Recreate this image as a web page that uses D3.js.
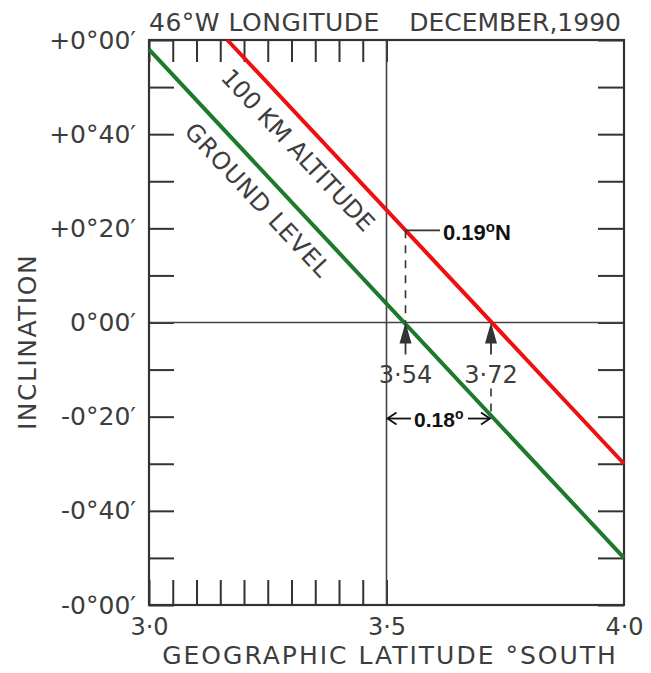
<!DOCTYPE html>
<html>
<head>
<meta charset="utf-8">
<script src="https://cdn.jsdelivr.net/npm/d3@7"></script>
<style>
  body { margin: 0; background: #fff; }
  svg text { font-family: "DejaVu Sans", sans-serif; fill: #3d3d3d; }
</style>
</head>
<body>
<svg></svg>
<script>
// inclination vs geographic latitude, 46W, Dec 1990
var width = 651
var height = 673

// latitude (deg S) and inclination (arc minutes)
var groundLat = [3.0, 4.0]
var groundInc = [58, -50]
var altLat = [3.165, 4.0]
var altInc = [60, -30]

var yTickValues = [60, 40, 20, 0, -20, -40, -60]
var yTickLabels = ['+0°00′', '+0°40′', '+0°20′', '0°00′', '-0°20′', '-0°40′', '-0°00′']
var xTickValues = [3.0, 3.5, 4.0]
var xTickLabels = ['3·0', '3·5', '4·0']

var cross54 = 3.54
var cross72 = 3.72

var xScale = d3.scaleLinear().domain([3, 4]).range([149, 624])
var yScale = d3.scaleLinear().domain([-60, 60]).range([605, 40])

var svg = d3.select('svg')
  .attr('width', width)
  .attr('height', height)

var minorX = d3.range(0, 11).map(i => 3 + i * 0.05)
var minorY = d3.range(-60, 61, 10)

// axes, ticks all point inward
function styleAxis(g) {
  g.select('.domain').remove()
  g.selectAll('.tick line').attr('stroke', '#333').attr('stroke-width', 2)
}

svg.append('g')
  .attr('transform', 'translate(0,' + yScale(-60) + ')')
  .call(d3.axisBottom(xScale).tickValues(minorX).tickSizeInner(-25).tickFormat(''))
  .call(styleAxis)

svg.append('g')
  .attr('transform', 'translate(0,' + yScale(60) + ')')
  .call(d3.axisTop(xScale).tickValues(minorX).tickSizeInner(-22).tickFormat(''))
  .call(styleAxis)

svg.append('g')
  .attr('transform', 'translate(' + xScale(3) + ',0)')
  .call(d3.axisLeft(yScale).tickValues(minorY).tickSizeInner(-25).tickFormat(''))
  .call(styleAxis)

svg.append('g')
  .attr('transform', 'translate(' + xScale(4) + ',0)')
  .call(d3.axisRight(yScale).tickValues(minorY).tickSizeInner(-26).tickFormat(''))
  .call(styleAxis)

// tick labels
svg.append('g')
  .attr('transform', 'translate(' + (xScale(3) - 10) + ',0)')
  .call(d3.axisLeft(yScale).tickValues(yTickValues).tickSize(0)
    .tickFormat((d, i) => yTickLabels[i]))
  .call(g => g.select('.domain').remove())
  .selectAll('text')
    .style('font-size', '25px')
    .attr('fill', '#3d3d3d')

svg.append('g')
  .attr('transform', 'translate(0,' + (yScale(-60) + 10) + ')')
  .call(d3.axisBottom(xScale).tickValues(xTickValues).tickSize(0)
    .tickFormat((d, i) => xTickLabels[i]))
  .call(g => g.select('.domain').remove())
  .selectAll('text')
    .style('font-size', '24px')
    .attr('fill', '#3d3d3d')

// reference lines
svg.append('line')
  .attr('x1', xScale(3)).attr('x2', xScale(4))
  .attr('y1', yScale(0)).attr('y2', yScale(0))
  .attr('stroke', '#444').attr('stroke-width', 1.6)

svg.append('line')
  .attr('x1', xScale(3.5)).attr('x2', xScale(3.5))
  .attr('y1', yScale(60)).attr('y2', yScale(-60))
  .attr('stroke', '#444').attr('stroke-width', 1.6)

// frame
svg.append('rect')
  .attr('x', xScale(3)).attr('y', yScale(60))
  .attr('width', xScale(4) - xScale(3))
  .attr('height', yScale(-60) - yScale(60))
  .attr('fill', 'none')
  .attr('stroke', '#333')
  .attr('stroke-width', 2.2)

// series lines
var line = d3.line().x(d => xScale(d[0])).y(d => yScale(d[1]))

svg.append('path')
  .datum(altLat.map((d, i) => [d, altInc[i]]))
  .attr('d', line)
  .attr('fill', 'none')
  .attr('stroke', '#ee1010')
  .attr('stroke-width', 4)

svg.append('path')
  .datum(groundLat.map((d, i) => [d, groundInc[i]]))
  .attr('d', line)
  .attr('fill', 'none')
  .attr('stroke', '#1d7a2c')
  .attr('stroke-width', 4)

// value of a series at latitude
function interp(lats, incs, x) {
  var t = (x - lats[0]) / (lats[1] - lats[0])
  return incs[0] + t * (incs[1] - incs[0])
}

// rotated series labels
var angle = Math.atan2(yScale(groundInc[1]) - yScale(groundInc[0]),
  xScale(groundLat[1]) - xScale(groundLat[0])) * 180 / Math.PI

svg.append('text')
  .attr('transform', 'translate(298,150) rotate(' + angle + ')')
  .attr('text-anchor', 'middle')
  .attr('dy', '0.35em')
  .style('font-size', '24px')
  .text('100 KM ALTITUDE')

svg.append('text')
  .attr('transform', 'translate(258,200) rotate(' + angle + ')')
  .attr('text-anchor', 'middle')
  .attr('dy', '0.35em')
  .style('font-size', '24px')
  .style('letter-spacing', '1px')
  .text('GROUND LEVEL')

// annotations
var ink = '#333'
var redAt54 = interp(altLat, altInc, cross54)
var greenAt72 = interp(groundLat, groundInc, cross72)

svg.append('line')
  .attr('x1', xScale(cross54)).attr('x2', 440)
  .attr('y1', yScale(redAt54)).attr('y2', yScale(redAt54))
  .attr('stroke', ink).attr('stroke-width', 1.8)

svg.append('line')
  .attr('x1', xScale(cross54)).attr('x2', xScale(cross54))
  .attr('y1', yScale(redAt54)).attr('y2', yScale(0))
  .attr('stroke', ink).attr('stroke-width', 1.6)
  .attr('stroke-dasharray', '8,7')

svg.append('text')
  .attr('x', 443).attr('y', yScale(redAt54) + 10)
  .style('font-family', '"Liberation Sans", Arial, sans-serif')
  .style('font-weight', 'bold')
  .style('font-size', '22px')
  .style('fill', '#111')
  .html('0.19<tspan dy="-8" style="font-size:15px">o</tspan><tspan dy="8">N</tspan>')

// upward arrows at the zero crossings
;[cross54, cross72].forEach(function (c) {
  var cx = xScale(c)
  var y0 = yScale(0)
  svg.append('line')
    .attr('x1', cx).attr('x2', cx)
    .attr('y1', y0 + 18).attr('y2', y0 + 32)
    .attr('stroke', ink).attr('stroke-width', 1.8)
  svg.append('path')
    .attr('d', 'M' + cx + ',' + y0 + ' L' + (cx - 6) + ',' + (y0 + 21) +
      ' L' + (cx + 6) + ',' + (y0 + 21) + ' Z')
    .attr('fill', ink)
  svg.append('text')
    .attr('x', cx).attr('y', y0 + 60)
    .attr('text-anchor', 'middle')
    .style('font-size', '24px')
    .text(c.toFixed(2).replace('.', '·'))
})

svg.append('line')
  .attr('x1', xScale(cross72)).attr('x2', xScale(cross72))
  .attr('y1', yScale(0) + 66).attr('y2', yScale(greenAt72))
  .attr('stroke', ink).attr('stroke-width', 1.6)
  .attr('stroke-dasharray', '8,7')

// 0.18 degree span
var spanY = yScale(greenAt72) + 3
function chevron(x, dir) {
  svg.append('path')
    .attr('d', 'M' + (x + dir * 9) + ',' + (spanY - 6) + ' L' + x + ',' + spanY +
      ' L' + (x + dir * 9) + ',' + (spanY + 6))
    .attr('fill', 'none').attr('stroke', '#111').attr('stroke-width', 1.8)
}
svg.append('line')
  .attr('x1', xScale(3.5) + 1).attr('x2', 411)
  .attr('y1', spanY).attr('y2', spanY)
  .attr('stroke', '#111').attr('stroke-width', 1.8)
svg.append('line')
  .attr('x1', 468).attr('x2', xScale(cross72) - 1)
  .attr('y1', spanY).attr('y2', spanY)
  .attr('stroke', '#111').attr('stroke-width', 1.8)
chevron(xScale(3.5) + 1, 1)
chevron(xScale(cross72) - 1, -1)

svg.append('text')
  .attr('x', 414).attr('y', spanY + 8)
  .style('font-family', '"Liberation Sans", Arial, sans-serif')
  .style('font-weight', 'bold')
  .style('font-size', '21px')
  .style('fill', '#111')
  .html('0.18<tspan dy="-8" style="font-size:14px">o</tspan>')

// titles
svg.append('text')
  .attr('x', 149).attr('y', 31)
  .style('font-size', '25px')
  .style('letter-spacing', '0.5px')
  .text('46°W LONGITUDE')

svg.append('text')
  .attr('x', 621).attr('y', 31)
  .attr('text-anchor', 'end')
  .style('font-size', '25px')
  .text('DECEMBER,1990')

svg.append('text')
  .attr('transform', 'translate(36,342) rotate(-90)')
  .attr('text-anchor', 'middle')
  .style('font-size', '25px')
  .style('letter-spacing', '1.5px')
  .text('INCLINATION')

svg.append('text')
  .attr('x', 390).attr('y', 664)
  .attr('text-anchor', 'middle')
  .style('font-size', '25px')
  .style('letter-spacing', '2px')
  .text('GEOGRAPHIC LATITUDE °SOUTH')
</script>
</body>
</html>
